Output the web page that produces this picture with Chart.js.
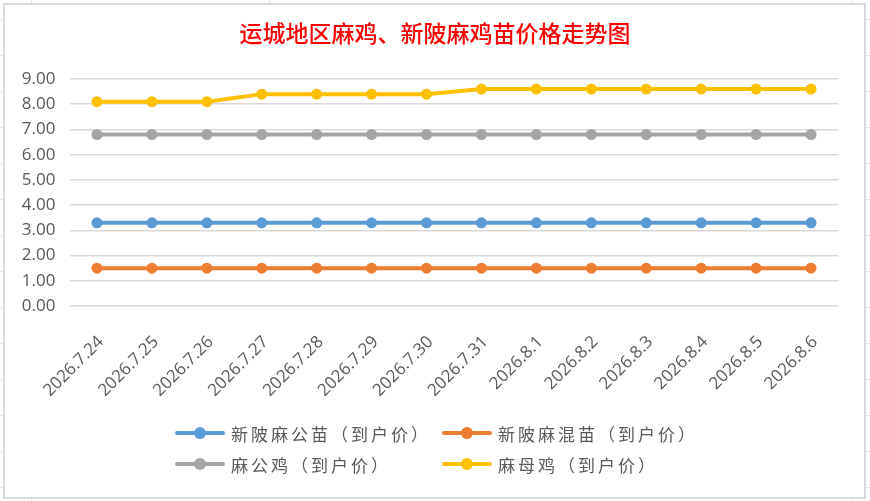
<!DOCTYPE html>
<html>
<head>
<meta charset="utf-8">
<script src="https://cdn.jsdelivr.net/npm/chart.js@4.4.1/dist/chart.umd.min.js"></script>
<style>
	html, body { margin: 0; padding: 0; background: #fff; }
	#wrap {
		position: relative; width: 870px; height: 501px; overflow: hidden;
		background-color: #fff;
		background-image:
			repeating-linear-gradient(to bottom, transparent 0, transparent 19px, #e3e3e3 19px, #e3e3e3 20px, transparent 20px, transparent 36px),
			linear-gradient(to right, transparent 31px, #e3e3e3 31px, #e3e3e3 32px, transparent 32px, transparent 269px, #e3e3e3 269px, #e3e3e3 270px, transparent 270px, transparent 851px, #e3e3e3 851px, #e3e3e3 852px, transparent 852px);
	}
	#frame {
		position: absolute; left: 3px; top: 3px; width: 863px; height: 496px;
		box-sizing: border-box; border: 2px solid #d9d9d9; background: #fff;
	}
	#box { position: absolute; left: 0; top: 0; width: 870px; height: 501px; }
	#legend { position: absolute; left: 0; top: 0; width: 870px; height: 501px; pointer-events: none; }
	#legend .item { position: absolute; height: 24px; display: flex; align-items: center; }
	#legend .mark { position: relative; width: 50px; height: 4px; border-radius: 2px; }
	#legend .dot { position: absolute; left: 19px; top: -4px; width: 12px; height: 12px; border-radius: 50%; }
	#legend .text {
		margin-left: 6px; font-family: "Noto Sans CJK SC", sans-serif; font-size: 17px;
		letter-spacing: 3px; color: #595959; white-space: nowrap;
	}
</style>
</head>
<body>
<div id="wrap">
	<div id="frame"></div>
	<div id="box"><canvas id="line-harga"></canvas></div>
	<div id="legend"></div>
</div>
<script>
const chartTitle = '运城地区麻鸡、新陂麻鸡苗价格走势图';
const dates = ['2026.7.24', '2026.7.25', '2026.7.26', '2026.7.27', '2026.7.28', '2026.7.29', '2026.7.30',
	'2026.7.31', '2026.8.1', '2026.8.2', '2026.8.3', '2026.8.4', '2026.8.5', '2026.8.6'];
const seriesNames = ['新陂麻公苗（到户价）', '新陂麻混苗（到户价）', '麻公鸡（到户价）', '麻母鸡（到户价）'];
const gongMiao = [3.3, 3.3, 3.3, 3.3, 3.3, 3.3, 3.3, 3.3, 3.3, 3.3, 3.3, 3.3, 3.3, 3.3];
const hunMiao = [1.5, 1.5, 1.5, 1.5, 1.5, 1.5, 1.5, 1.5, 1.5, 1.5, 1.5, 1.5, 1.5, 1.5];
const gongJi = [6.8, 6.8, 6.8, 6.8, 6.8, 6.8, 6.8, 6.8, 6.8, 6.8, 6.8, 6.8, 6.8, 6.8];
const muJi = [8.1, 8.1, 8.1, 8.4, 8.4, 8.4, 8.4, 8.6, 8.6, 8.6, 8.6, 8.6, 8.6, 8.6];
const yTicks = [0, 1, 2, 3, 4, 5, 6, 7, 8, 9];
const seriesColors = ['#5b9bd5', '#ed7d31', '#a5a5a5', '#ffc000'];

const make_dataset = (label, data, color) => {
	return {
		label: label,
		data: data,
		borderColor: color,
		backgroundColor: color,
		borderWidth: 4,
		pointRadius: 5.5,
		pointHoverRadius: 5.5,
		pointBorderWidth: 0,
		tension: 0,
		fill: false
	};
}

const build_legend = (chart) => {
	// excel style: two aligned columns under the plot
	const cols = [175, 442];
	const rows = [421, 452];
	const box = document.getElementById('legend');
	chart.data.datasets.forEach((ds, i) => {
		const item = document.createElement('div');
		item.className = 'item';
		item.style.left = cols[i % 2] + 'px';
		item.style.top = rows[Math.floor(i / 2)] + 'px';
		const mark = document.createElement('span');
		mark.className = 'mark';
		mark.style.background = ds.borderColor;
		const dot = document.createElement('span');
		dot.className = 'dot';
		dot.style.background = ds.borderColor;
		mark.appendChild(dot);
		const text = document.createElement('span');
		text.className = 'text';
		text.textContent = ds.label;
		item.appendChild(mark);
		item.appendChild(text);
		box.appendChild(item);
	});
}

const lineChart = new Chart(document.getElementById('line-harga'), {
	type: 'line',
	data: {
		labels: dates,
		datasets: [
			make_dataset(seriesNames[0], gongMiao, seriesColors[0]),
			make_dataset(seriesNames[1], hunMiao, seriesColors[1]),
			make_dataset(seriesNames[2], gongJi, seriesColors[2]),
			make_dataset(seriesNames[3], muJi, seriesColors[3])
		]
	},
	options: {
		responsive: true,
		maintainAspectRatio: false,
		animation: false,
		layout: {
			padding: { left: 0, right: 0, top: 0, bottom: 85 }
		},
		plugins: {
			title: {
				display: true,
				text: chartTitle,
				color: '#ff0000',
				font: { family: 'Noto Sans CJK SC', size: 23, weight: '500' },
				padding: { top: 19.4, bottom: 32 }
			},
			legend: { display: false },
			tooltip: { enabled: false }
		},
		scales: {
			x: {
				offset: true,
				grid: { display: false, drawTicks: false },
				border: { display: false },
				ticks: {
					autoSkip: false,
					minRotation: 45,
					maxRotation: 45,
					padding: 26,
					labelOffset: 4,
					color: '#595959',
					font: { family: 'Open Sans', size: 17 }
				},
				afterFit: (scale) => { scale.height = 110; }
			},
			y: {
				min: yTicks[0],
				max: yTicks[yTicks.length - 1],
				grid: { color: '#d9d9d9', lineWidth: 1.5, drawTicks: false },
				border: { display: false },
				ticks: {
					stepSize: 1,
					padding: 14,
					color: '#595959',
					font: { family: 'Open Sans', size: 17 },
					callback: (value) => value.toFixed(2)
				},
				afterFit: (scale) => { scale.width = 69.5; }
			},
			// empty right side space, keeps the title centred on the whole frame
			yRight: {
				position: 'right',
				grid: { display: false, drawTicks: false },
				border: { display: false },
				ticks: { display: false },
				afterFit: (scale) => { scale.width = 31.5; }
			}
		}
	}
});

build_legend(lineChart);
</script>
</body>
</html>
